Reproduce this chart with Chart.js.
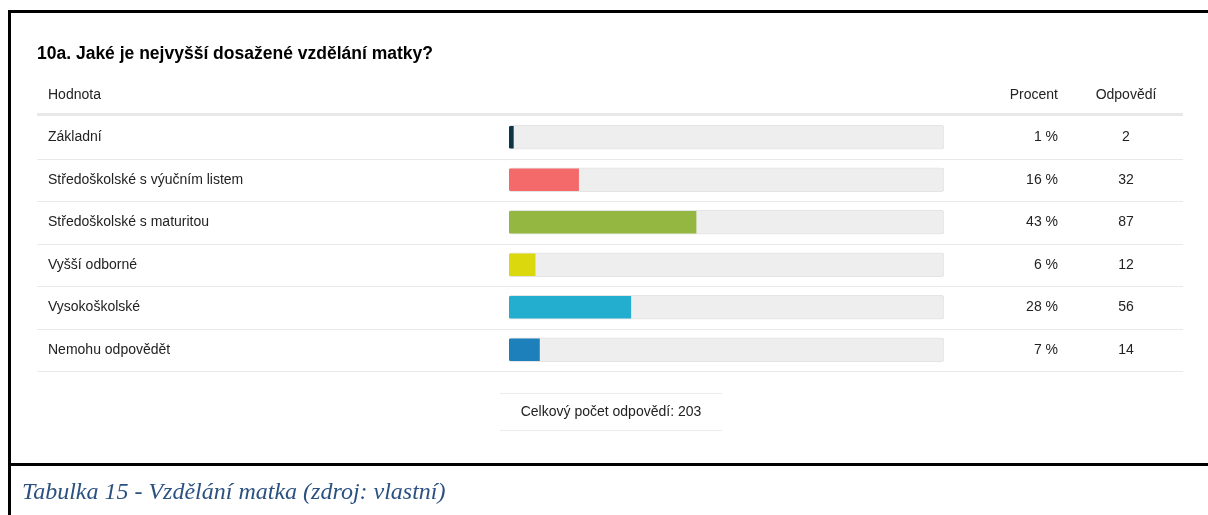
<!DOCTYPE html>
<html lang="cs">
<head>
<meta charset="utf-8">
<title>Vzdělání matky</title>
<script src="https://cdn.jsdelivr.net/npm/chart.js@4.4.1/dist/chart.umd.min.js"></script>
<style>
    html, body { margin: 0; padding: 0; background: #fff; }
    #wrap { position: relative; width: 1208px; height: 515px; }
</style>
</head>
<body>
<div id="wrap"><canvas id="educationChart"></canvas></div>
<script>
const questionTitle = '10a. Jaké je nejvyšší dosažené vzdělání matky?';
const captionText = 'Tabulka 15 - Vzdělání matka (zdroj: vlastní)';

const categories = [
    'Základní',
    'Středoškolské s výučním listem',
    'Středoškolské s maturitou',
    'Vyšší odborné',
    'Vysokoškolské',
    'Nemohu odpovědět'
];
const percentValues = [1, 16, 43, 6, 28, 7];
const answerCounts = [2, 32, 87, 12, 56, 14];
const barColors = ['#0d3349', '#f46a6a', '#93b741', '#dbd80e', '#23aed0', '#1d80bb'];
const trackValues = [100, 100, 100, 100, 100, 100];

function initializeSurveyChart(chartId) {
    const ctx = document.getElementById(chartId).getContext('2d');

    const surveyData = {
        labels: categories,
        datasets: [{
            label: 'Procent',
            data: percentValues,
            backgroundColor: barColors,
            borderWidth: 0,
            borderRadius: { topLeft: 2, bottomLeft: 2, topRight: 0, bottomRight: 0 },
            borderSkipped: false,
            barThickness: 22,
            grouped: false,
            order: 1
        }, {
            label: 'track',
            data: trackValues,
            backgroundColor: '#eeeeee',
            borderColor: '#e4e4e4',
            borderWidth: 1,
            borderRadius: 3,
            borderSkipped: false,
            barThickness: 24,
            grouped: false,
            order: 2
        }]
    };

    // table text, separators and the surrounding frame
    const tableLayout = {
        id: 'tableLayout',
        beforeDatasetsDraw(chart) {
            const { ctx, scales } = chart;
            const y = scales.y;
            const rowH = (y.bottom - y.top) / categories.length;

            ctx.save();
            // header underline
            ctx.fillStyle = '#e8e8e8';
            ctx.fillRect(37, y.top - 3, 1146, 3);
            // row separators
            ctx.fillStyle = '#e9e9e9';
            categories.forEach((c, i) => {
                const yb = Math.round(y.getPixelForValue(i) + rowH / 2);
                ctx.fillRect(37, yb, 1146, 1);
            });
            ctx.restore();
        },
        afterDraw(chart) {
            const { ctx, scales } = chart;
            const y = scales.y;

            ctx.save();
            ctx.textBaseline = 'middle';

            ctx.font = 'bold 17.5px "Liberation Sans", Arial, sans-serif';
            ctx.fillStyle = '#000';
            ctx.textAlign = 'left';
            ctx.fillText(questionTitle, 37, 54);

            ctx.font = '14px "Liberation Sans", Arial, sans-serif';
            ctx.fillStyle = '#222';
            ctx.fillText('Hodnota', 48, 95);
            ctx.textAlign = 'right';
            ctx.fillText('Procent', 1058, 95);
            ctx.textAlign = 'center';
            ctx.fillText('Odpovědí', 1126, 95);

            categories.forEach((label, i) => {
                const yc = y.getPixelForValue(i);
                ctx.textAlign = 'left';
                ctx.fillText(label, 48, yc);
                ctx.textAlign = 'right';
                ctx.fillText(percentValues[i] + ' %', 1058, yc);
                ctx.textAlign = 'center';
                ctx.fillText(String(answerCounts[i]), 1126, yc);
            });

            // total box
            const total = answerCounts.reduce((a, b) => a + b, 0);
            ctx.fillStyle = '#ececec';
            ctx.fillRect(500, 393, 222, 1);
            ctx.fillRect(500, 430, 222, 1);
            ctx.fillStyle = '#222';
            ctx.textAlign = 'center';
            ctx.fillText('Celkový počet odpovědí: ' + total, 611, 412);

            // frame
            ctx.fillStyle = '#000';
            ctx.fillRect(8, 10, 1200, 3);
            ctx.fillRect(8, 10, 3, 505);
            ctx.fillRect(8, 463, 1200, 3);

            // caption
            ctx.font = 'italic 24px "Liberation Serif", "Times New Roman", serif';
            ctx.fillStyle = '#2b5181';
            ctx.textAlign = 'left';
            ctx.fillText(captionText, 22, 493);
            ctx.restore();
        }
    };

    const surveyOptions = {
        responsive: true,
        maintainAspectRatio: false,
        animation: false,
        indexAxis: 'y',
        layout: {
            padding: { left: 509, right: 264, top: 116, bottom: 144 }
        },
        scales: {
            x: { min: 0, max: 100, display: false },
            y: { display: false }
        },
        plugins: {
            legend: { display: false },
            tooltip: { enabled: false }
        }
    };

    new Chart(ctx, {
        type: 'bar',
        data: surveyData,
        options: surveyOptions,
        plugins: [tableLayout]
    });
}

initializeSurveyChart('educationChart');
</script>
</body>
</html>
